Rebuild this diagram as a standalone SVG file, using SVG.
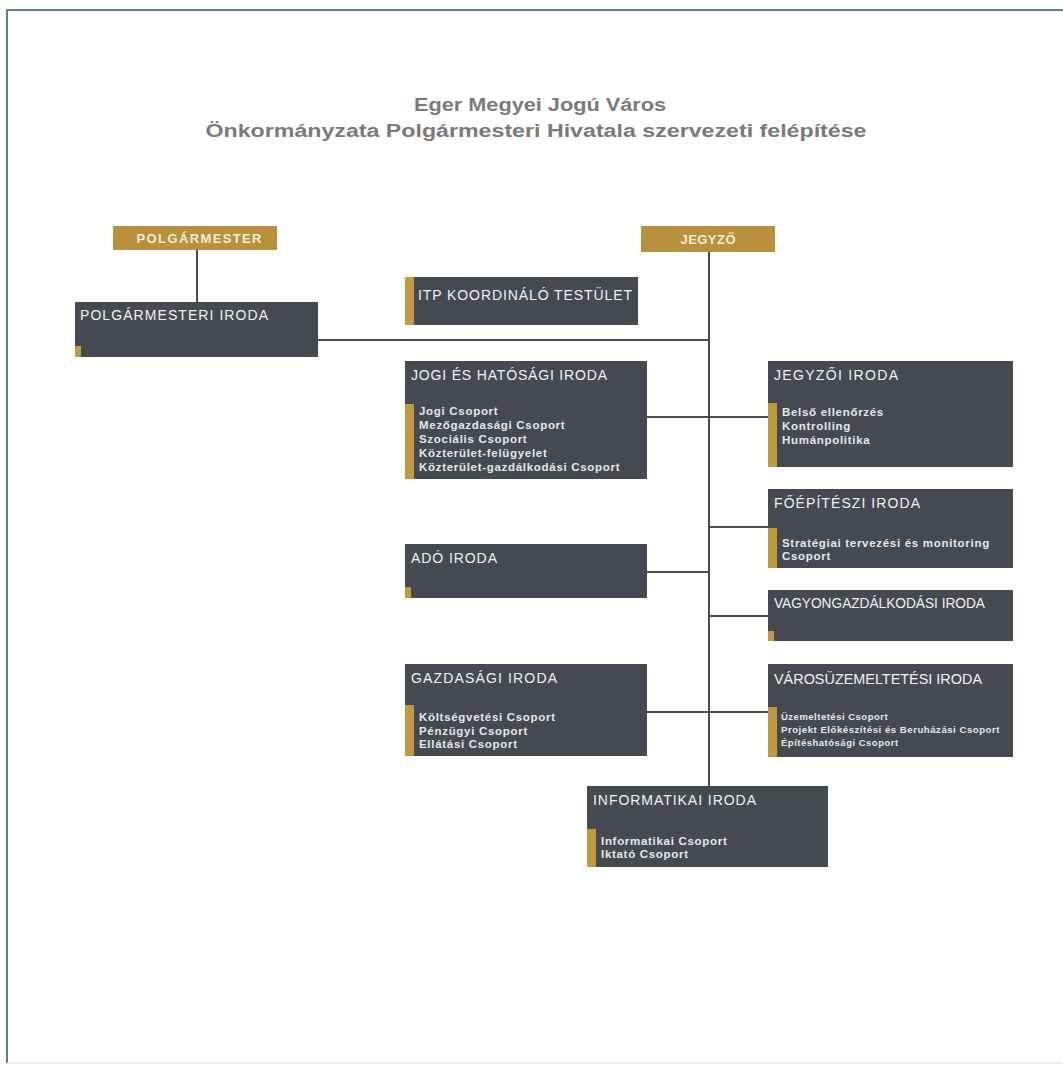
<svg xmlns="http://www.w3.org/2000/svg" width="1063" height="1068" viewBox="0 0 1063 1068">
<style>
.box{fill:#464950}
.gold{fill:#b8913a}
.acc{fill:#c09a3c}
.ttl{font-family:"Liberation Sans",Arial,sans-serif;font-size:14px;fill:#f2f2f2}
.top{font-family:"Liberation Sans",Arial,sans-serif;font-size:13px;font-weight:bold;fill:#f4ecd8;text-anchor:middle}
.itm{font-family:"Liberation Sans",Arial,sans-serif;font-size:11.5px;font-weight:bold;fill:#e6e8ee;letter-spacing:0.7px}
.sm{font-size:9.5px;letter-spacing:0.5px}
.head{font-family:"Liberation Sans",Arial,sans-serif;font-size:18px;font-weight:bold;fill:#7a7a7a;text-anchor:middle}
.con line{stroke:#4a4c52;stroke-width:2}
</style>
<rect width="1063" height="1068" fill="#ffffff"/>
<path d="M7,1063 L7,10 L1063,10" fill="none" stroke="#5d7f9c" stroke-width="2"/>
<line x1="7" y1="1063" x2="1063" y2="1063" stroke="#d8dde2" stroke-width="1"/>
<g id="title">
<text class="head" x="540" y="111" textLength="252" lengthAdjust="spacingAndGlyphs">Eger Megyei Jogú Város</text>
<text class="head" x="536" y="137" textLength="661" lengthAdjust="spacingAndGlyphs">Önkormányzata Polgármesteri Hivatala szervezeti felépítése</text>
</g>
<g class="con" id="connectors">
<line x1="197" y1="250" x2="197" y2="302"/>
<line x1="709" y1="252" x2="709" y2="786"/>
<line x1="318" y1="340" x2="709" y2="340"/>
<line x1="647" y1="417" x2="768" y2="417"/>
<line x1="709" y1="527" x2="768" y2="527"/>
<line x1="647" y1="572" x2="709" y2="572"/>
<line x1="709" y1="616" x2="768" y2="616"/>
<line x1="647" y1="712" x2="768" y2="712"/>
</g>
<g id="polgarmester">
<rect class="gold" x="113" y="226" width="164" height="24"/>
<text class="top" x="199" y="243" textLength="125" lengthAdjust="spacing">POLGÁRMESTER</text>
</g>
<g id="jegyzo">
<rect class="gold" x="641" y="226" width="134" height="26"/>
<text class="top" x="708" y="244" textLength="55" lengthAdjust="spacing">JEGYZŐ</text>
</g>
<g id="polgarmesteri-iroda">
<rect class="box" x="75" y="302" width="243" height="55"/>
<rect class="acc" x="75" y="346" width="6" height="11"/>
<text class="ttl" x="80" y="320" textLength="188" lengthAdjust="spacing">POLGÁRMESTERI IRODA</text>
</g>
<g id="itp">
<rect class="box" x="405" y="277" width="233" height="48"/>
<rect class="acc" x="405" y="277" width="9" height="48"/>
<text class="ttl" x="418" y="300" textLength="214" lengthAdjust="spacing">ITP KOORDINÁLÓ TESTÜLET</text>
</g>
<g id="jogi">
<rect class="box" x="405" y="361" width="242" height="118"/>
<rect class="acc" x="405" y="404" width="9" height="75"/>
<text class="ttl" x="411" y="380" textLength="196" lengthAdjust="spacing">JOGI ÉS HATÓSÁGI IRODA</text>
<text class="itm" x="419" y="415">Jogi Csoport</text>
<text class="itm" x="419" y="429">Mezőgazdasági Csoport</text>
<text class="itm" x="419" y="443">Szociális Csoport</text>
<text class="itm" x="419" y="457">Közterület-felügyelet</text>
<text class="itm" x="419" y="471">Közterület-gazdálkodási Csoport</text>
</g>
<g id="jegyzoi">
<rect class="box" x="768" y="361" width="245" height="106"/>
<rect class="acc" x="768" y="403" width="9" height="64"/>
<text class="ttl" x="774" y="380" textLength="124" lengthAdjust="spacing">JEGYZŐI IRODA</text>
<text class="itm" x="782" y="416">Belső ellenőrzés</text>
<text class="itm" x="782" y="430">Kontrolling</text>
<text class="itm" x="782" y="444">Humánpolitika</text>
</g>
<g id="foepiteszi">
<rect class="box" x="768" y="489" width="245" height="79"/>
<rect class="acc" x="768" y="528" width="9" height="40"/>
<text class="ttl" x="774" y="508" textLength="146" lengthAdjust="spacing">FŐÉPÍTÉSZI IRODA</text>
<text class="itm" x="782" y="547">Stratégiai tervezési és monitoring</text>
<text class="itm" x="782" y="560">Csoport</text>
</g>
<g id="vagyon">
<rect class="box" x="768" y="590" width="245" height="51"/>
<rect class="acc" x="768" y="631" width="6" height="10"/>
<text class="ttl" x="774" y="608" textLength="211" lengthAdjust="spacingAndGlyphs">VAGYONGAZDÁLKODÁSI IRODA</text>
</g>
<g id="ado">
<rect class="box" x="405" y="544" width="242" height="54"/>
<rect class="acc" x="405" y="587" width="6" height="11"/>
<text class="ttl" x="411" y="563" textLength="86" lengthAdjust="spacing">ADÓ IRODA</text>
</g>
<g id="gazdasagi">
<rect class="box" x="405" y="664" width="242" height="92"/>
<rect class="acc" x="405" y="705" width="9" height="51"/>
<text class="ttl" x="411" y="683" textLength="146" lengthAdjust="spacing">GAZDASÁGI IRODA</text>
<text class="itm" x="419" y="721">Költségvetési Csoport</text>
<text class="itm" x="419" y="735">Pénzügyi Csoport</text>
<text class="itm" x="419" y="748">Ellátási Csoport</text>
</g>
<g id="varos">
<rect class="box" x="768" y="664" width="245" height="93"/>
<rect class="acc" x="768" y="707" width="9" height="50"/>
<text class="ttl" x="774" y="684" textLength="208" lengthAdjust="spacingAndGlyphs">VÁROSÜZEMELTETÉSI IRODA</text>
<text class="itm sm" x="781" y="720">Üzemeltetési Csoport</text>
<text class="itm sm" x="781" y="733" textLength="219" lengthAdjust="spacingAndGlyphs">Projekt Előkészítési és Beruházási Csoport</text>
<text class="itm sm" x="781" y="746">Építéshatósági Csoport</text>
</g>
<g id="informatikai">
<rect class="box" x="587" y="786" width="241" height="81"/>
<rect class="acc" x="587" y="829" width="9" height="38"/>
<text class="ttl" x="593" y="805" textLength="163" lengthAdjust="spacing">INFORMATIKAI IRODA</text>
<text class="itm" x="601" y="845">Informatikai Csoport</text>
<text class="itm" x="601" y="858">Iktató Csoport</text>
</g>
</svg>
